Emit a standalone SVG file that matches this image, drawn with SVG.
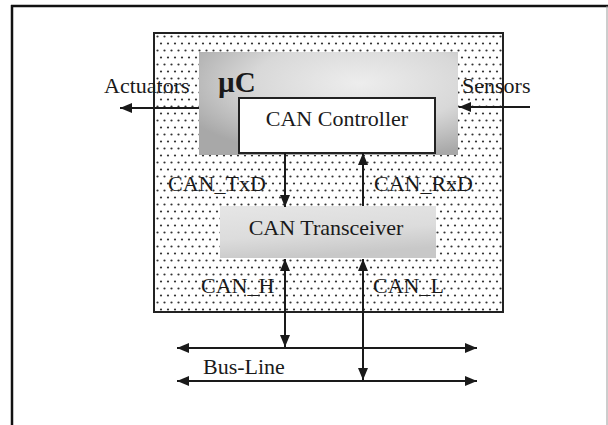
<svg xmlns="http://www.w3.org/2000/svg" width="608" height="425" viewBox="0 0 608 425">
  <style>
    text { font-family: "Liberation Serif", "Times New Roman", serif; font-size: 22px; fill: #1a1a1a; }
    .title { font-weight: bold; font-size: 29px; }
    .mid { text-anchor: middle; }
    .conn { stroke: #1a1a1a; stroke-width: 2; fill: none; }
    .arrow-end { marker-end: url(#arrow); }
    .arrow-both { marker-start: url(#arrow); marker-end: url(#arrow); }
  </style>
  <defs>
    <pattern id="dots" width="7" height="14" patternUnits="userSpaceOnUse" x="154" y="33">
      <rect width="7" height="14" fill="#fff"/>
      <circle cx="3.5" cy="3.5" r="1.1" fill="#333"/>
      <circle cx="0" cy="10.5" r="1.1" fill="#333"/>
      <circle cx="7" cy="10.5" r="1.1" fill="#333"/>
    </pattern>
    <radialGradient id="ucGrad" cx="0.62" cy="0.3" r="0.75">
      <stop offset="0" stop-color="#ededed"/>
      <stop offset="0.55" stop-color="#d8d8d8"/>
      <stop offset="1" stop-color="#a8a8a8"/>
    </radialGradient>
    <linearGradient id="trGrad" x1="0" y1="0" x2="0.3" y2="1">
      <stop offset="0" stop-color="#e6e6e6"/>
      <stop offset="0.6" stop-color="#dcdcdc"/>
      <stop offset="1" stop-color="#c8c8c8"/>
    </linearGradient>
    <marker id="arrow" viewBox="0 0 12 10" refX="12" refY="5" markerWidth="12" markerHeight="10" markerUnits="userSpaceOnUse" orient="auto-start-reverse">
      <path d="M0,0 L12,5 L0,10 Z" fill="#1a1a1a"/>
    </marker>
  </defs>

  <rect x="0" y="0" width="608" height="425" fill="#fff"/>

  <g id="frame">
    <line x1="11" y1="6" x2="608" y2="6" stroke="#111" stroke-width="2.5"/>
    <line x1="12" y1="5" x2="12" y2="425" stroke="#111" stroke-width="2.5"/>
    <line x1="607" y1="6" x2="607" y2="425" stroke="#9a9a9a" stroke-width="1"/>
  </g>

  <g id="ecu">
    <rect x="154" y="33" width="349" height="279" fill="url(#dots)" stroke="#222" stroke-width="2"/>
  </g>

  <g id="uc">
    <rect x="199" y="52" width="259" height="103" fill="url(#ucGrad)"/>
    <text class="title" x="218" y="92">µC</text>
  </g>

  <g id="can-controller">
    <rect x="239" y="98" width="196" height="55" fill="#fff" stroke="#222" stroke-width="2"/>
    <text class="mid" x="337" y="126">CAN Controller</text>
  </g>

  <g id="can-transceiver">
    <rect x="220" y="206" width="216" height="52" fill="url(#trGrad)"/>
    <text class="mid" x="326" y="235">CAN Transceiver</text>
  </g>

  <g id="connectors">
    <line class="conn arrow-end" x1="199" y1="108" x2="120" y2="108"/>
    <line class="conn arrow-end" x1="530" y1="107" x2="459" y2="107"/>
    <line class="conn arrow-end" x1="285" y1="153" x2="285" y2="207"/>
    <line class="conn arrow-end" x1="363" y1="206" x2="363" y2="153"/>
    <line class="conn arrow-both" x1="285" y1="259" x2="285" y2="347"/>
    <line class="conn arrow-both" x1="363" y1="259" x2="363" y2="380"/>
    <line class="conn arrow-both" x1="177" y1="348" x2="477" y2="348"/>
    <line class="conn arrow-both" x1="177" y1="381" x2="477" y2="381"/>
  </g>

  <g id="labels">
    <text x="104" y="93">Actuators</text>
    <text x="462" y="93">Sensors</text>
    <text x="168" y="191">CAN_TxD</text>
    <text x="374" y="191">CAN_RxD</text>
    <text x="201" y="293">CAN_H</text>
    <text x="373" y="293">CAN_L</text>
    <text x="203" y="374">Bus-Line</text>
  </g>
</svg>
